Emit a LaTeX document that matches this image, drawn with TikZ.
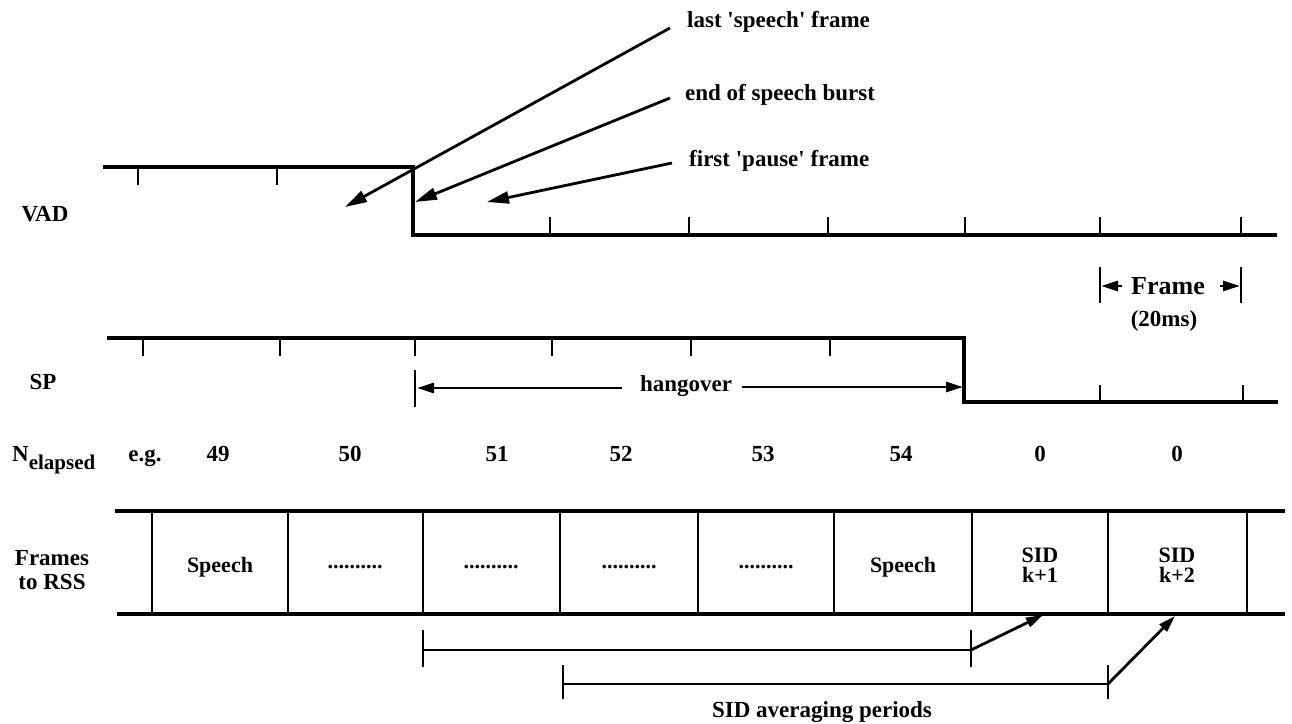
\documentclass[tikz,border=0pt]{standalone}
\usepackage{fontspec}
\setmainfont{Liberation Serif}
\usetikzlibrary{arrows.meta}
\begin{document}
\begin{tikzpicture}[x=1pt,y=-1pt,
  sig/.style={line width=3.2pt},
  tk/.style={line width=2.2pt},
  lbl/.style={font=\fontsize{23}{24}\selectfont\bfseries, inner sep=0pt},
  num/.style={font=\fontsize{23}{24}\selectfont\bfseries, inner sep=0pt, anchor=base},
  boxtxt/.style={font=\fontsize{22}{20}\selectfont\bfseries, inner sep=0pt, align=center},
  dots/.style={font=\fontsize{22}{22}\selectfont\bfseries, inner sep=0pt},
  callout/.style={line width=2.8pt, -{Triangle[length=22pt,width=12pt]}},
  dimarr/.style={line width=2.8pt, -{Triangle[length=17pt,width=10pt]}},
  boxline/.style={line width=3.4pt},
  divider/.style={line width=2pt},
  bracket/.style={line width=2.6pt},
]
\useasboundingbox (0,0) rectangle (1292,723);

% ---------- VAD ----------
\draw[sig] (103,167) -- (413,167) -- (413,235) -- (1277,235);
\foreach \x in {138,277} \draw[tk] (\x,167) -- (\x,185);
\foreach \x in {550,689,828,965,1100,1241} \draw[tk] (\x,235) -- (\x,217);
\node[lbl] (vad) at (45,214) {VAD};

% callouts
\node[lbl,anchor=west] (l1) at (687,22) {last \textquotesingle speech\textquotesingle{} frame};
\node[lbl,anchor=west] (l2) at (685,95) {end of speech burst};
\node[lbl,anchor=west] (l3) at (689,161) {first \textquotesingle pause\textquotesingle{} frame};
\coordinate (c1s) at (670,28);  \coordinate (c1e) at (345,207);
\coordinate (c2s) at (670,98);  \coordinate (c2e) at (415,202);
\coordinate (c3s) at (672,163); \coordinate (c3e) at (487,202);
\draw[callout] (c1s) -- (c1e);
\draw[callout] (c2s) -- (c2e);
\draw[callout] (c3s) -- (c3e);

% frame dimension
\draw[tk] (1100,267) -- (1100,303);
\draw[tk] (1241,267) -- (1241,303);
\node[lbl,font=\fontsize{26}{26}\selectfont\bfseries] (fr) at (1168,286) {Frame};
\coordinate (frl) at (1101,286); \coordinate (frr) at (1240,286);
\draw[dimarr] (1122,286) -- (frl);
\draw[dimarr] (1220,286) -- (frr);
\node[lbl] (ms) at (1164,321) {(20ms)};

% ---------- SP ----------
\draw[sig] (107,338) -- (964,338) -- (964,402) -- (1278,402);
\foreach \x in {143,280,415,552,691,830} \draw[tk] (\x,338) -- (\x,356);
\foreach \x in {1100,1243} \draw[tk] (\x,402) -- (\x,385);
\node[lbl] (sp) at (43,382) {SP};

% hangover
\draw[tk] (415,370) -- (415,407);
\node[lbl] (hang) at (686,386) {hangover};
\coordinate (hl) at (417,388); \coordinate (hr) at (963,387);
\draw[dimarr] (622,388) -- (hl);
\draw[dimarr] (742,387) -- (hr);

% ---------- N elapsed ----------
\node[num,anchor=base west] (ne) at (12,461) {N\raisebox{-8pt}{\fontsize{21}{22}\selectfont elapsed}};
\node[num] (eg) at (145,461) {e.g.};
\node[num] (n49) at (218,461) {49};
\node[num] (n50) at (350,461) {50};
\node[num] (n51) at (497,461) {51};
\node[num] (n52) at (621,461) {52};
\node[num] (n53) at (763,461) {53};
\node[num] (n54) at (901,461) {54};
\node[num] (n0a) at (1040,461) {0};
\node[num] (n0b) at (1177,461) {0};

% ---------- Frames to RSS ----------
\draw[boxline] (115,511) -- (1285,511);
\draw[boxline] (117,614) -- (1285,614);
\foreach \x in {152,288,423,560,698,834,972,1108,1247} \draw[divider] (\x,511) -- (\x,614);
\node[lbl,align=center] (rss) at (52,570) {Frames\\to RSS};
\node[boxtxt] (f1) at (220,567) {Speech};
\node[dots] (f2) at (355,567) {..........};
\node[dots] (f3) at (491,567) {..........};
\node[dots] (f4) at (629,567) {..........};
\node[dots] (f5) at (766,567) {..........};
\node[boxtxt] (f6) at (903,567) {Speech};
\node[boxtxt] (f7) at (1040,565) {SID\\k+1};
\node[boxtxt] (f8) at (1177,565) {SID\\k+2};

% ---------- SID averaging periods ----------
\coordinate (a1l) at (423,650); \coordinate (a1r) at (971,650);
\coordinate (a2l) at (563,684); \coordinate (a2r) at (1108,684);
\coordinate (t1) at (1043,615); \coordinate (t2) at (1175,616);
\draw[bracket] (423,630) -- (423,667);
\draw[bracket] (971,630) -- (971,667);
\draw[bracket] (a1l) -- (a1r);
\draw[bracket] (563,665) -- (563,699);
\draw[bracket] (1108,665) -- (1108,699);
\draw[bracket] (a2l) -- (a2r);
\draw[dimarr] (a1r) -- (t1);
\draw[dimarr] (a2r) -- (t2);
\node[lbl] (avg) at (822,712) {SID averaging periods};
\end{tikzpicture}
\end{document}
